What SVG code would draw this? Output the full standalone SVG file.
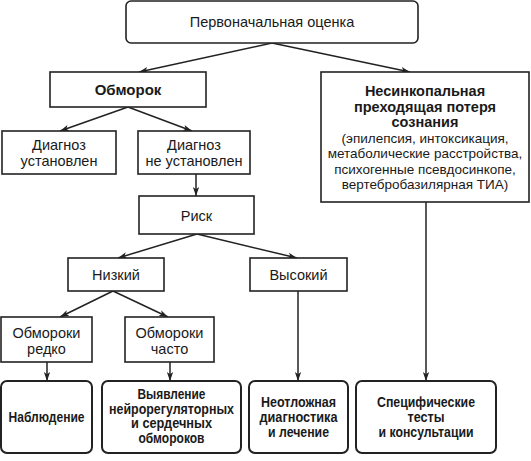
<svg xmlns="http://www.w3.org/2000/svg" width="531" height="461" viewBox="0 0 531 461">
<defs>
<style>
.b{fill:#fff;stroke:#222;stroke-width:1.6}
.r{fill:#fff;stroke:#222;stroke-width:2;}
.t{font-family:"Liberation Sans",Arial,sans-serif;font-size:14.5px;fill:#1a1a1a;text-anchor:middle}
.s{font-family:"Liberation Sans",Arial,sans-serif;font-size:13.5px;fill:#1a1a1a;text-anchor:middle}
.h{font-family:"Liberation Sans",Arial,sans-serif;font-size:15px;font-weight:bold;fill:#1a1a1a;text-anchor:middle}
.g{font-family:"Liberation Sans",Arial,sans-serif;font-size:14.5px;font-weight:bold;fill:#1a1a1a;text-anchor:middle}
.k{font-family:"Liberation Sans",Arial,sans-serif;font-size:14px;font-weight:bold;fill:#1a1a1a;text-anchor:middle}
.c{fill:none;stroke:#222;stroke-width:1.5}
</style>
<marker id="a" viewBox="0 0 10 10" refX="10" refY="5" markerWidth="9" markerHeight="9" markerUnits="userSpaceOnUse" orient="auto">
<path d="M0,1.5 L10,5 L0,8.5 L2.5,5 Z" fill="#222"/>
</marker>
</defs>
<rect width="531" height="461" fill="#fff"/>
<g id="connectors">
<line class="c" x1="272" y1="43" x2="139" y2="72" marker-end="url(#a)"/>
<line class="c" x1="272" y1="43" x2="410" y2="72" marker-end="url(#a)"/>
<line class="c" x1="128" y1="107" x2="60" y2="131" marker-end="url(#a)"/>
<line class="c" x1="128" y1="107" x2="192" y2="131" marker-end="url(#a)"/>
<line class="c" x1="196" y1="174" x2="196" y2="196" marker-end="url(#a)"/>
<line class="c" x1="197" y1="234" x2="118" y2="258" marker-end="url(#a)"/>
<line class="c" x1="197" y1="234" x2="297" y2="258" marker-end="url(#a)"/>
<line class="c" x1="113" y1="291" x2="60" y2="317" marker-end="url(#a)"/>
<line class="c" x1="113" y1="291" x2="168" y2="317" marker-end="url(#a)"/>
<line class="c" x1="47" y1="362" x2="47" y2="381" marker-end="url(#a)"/>
<line class="c" x1="170" y1="362" x2="170" y2="381" marker-end="url(#a)"/>
<line class="c" x1="298" y1="291" x2="298" y2="381" marker-end="url(#a)"/>
<line class="c" x1="426" y1="202" x2="426" y2="381" marker-end="url(#a)"/>
</g>
<g id="n-start">
<rect class="b" x="126" y="1" width="292" height="42" rx="5"/>
<text class="t" x="272" y="27">Первоначальная оценка</text>
</g>
<g id="n-syncope">
<rect class="b" x="50" y="72" width="156" height="35"/>
<text class="h" x="128" y="95">Обморок</text>
</g>
<g id="n-nonsyncope">
<rect class="b" x="321" y="72" width="208" height="130"/>
<text class="g" x="425" y="96">Несинкопальная</text>
<text class="g" x="425" y="111.5">преходящая потеря</text>
<text class="g" x="425" y="127">сознания</text>
<text class="s" x="425" y="142.5">(эпилепсия, интоксикация,</text>
<text class="s" x="425" y="158">метаболические расстройства,</text>
<text class="s" x="425" y="173.5">психогенные псевдосинкопе,</text>
<text class="s" x="425" y="189">вертебробазилярная ТИА)</text>
</g>
<g id="n-dx-yes">
<rect class="b" x="2" y="131" width="114" height="43"/>
<text class="t" x="59" y="150">Диагноз</text>
<text class="t" x="59" y="166">установлен</text>
</g>
<g id="n-dx-no">
<rect class="b" x="138" y="131" width="112" height="43"/>
<text class="t" x="194" y="150">Диагноз</text>
<text class="t" x="194" y="166">не установлен</text>
</g>
<g id="n-risk">
<rect class="b" x="139" y="196" width="115" height="38"/>
<text class="t" x="196.5" y="221">Риск</text>
</g>
<g id="n-low">
<rect class="b" x="68" y="258" width="96" height="33"/>
<text class="t" x="116" y="280">Низкий</text>
</g>
<g id="n-high">
<rect class="b" x="250" y="258" width="97" height="33"/>
<text class="t" x="298.5" y="280">Высокий</text>
</g>
<g id="n-rare">
<rect class="b" x="1" y="317" width="91" height="45"/>
<text class="t" x="46.5" y="338">Обмороки</text>
<text class="t" x="46.5" y="354">редко</text>
</g>
<g id="n-often">
<rect class="b" x="125" y="317" width="89" height="45"/>
<text class="t" x="169.5" y="338">Обмороки</text>
<text class="t" x="169.5" y="354">часто</text>
</g>
<g id="n-observe">
<rect class="r" x="1" y="381" width="91" height="72" rx="6"/>
<text class="k" x="46.5" y="422" textLength="76" lengthAdjust="spacingAndGlyphs">Наблюдение</text>
</g>
<g id="n-detect">
<rect class="r" x="102" y="381" width="139" height="72" rx="6"/>
<text class="k" x="171.5" y="399" textLength="68" lengthAdjust="spacingAndGlyphs">Выявление</text>
<text class="k" x="171.5" y="413.5" textLength="125" lengthAdjust="spacingAndGlyphs">нейрорегуляторных</text>
<text class="k" x="171.5" y="428" textLength="81" lengthAdjust="spacingAndGlyphs">и сердечных</text>
<text class="k" x="171.5" y="442.5" textLength="66" lengthAdjust="spacingAndGlyphs">обмороков</text>
</g>
<g id="n-urgent">
<rect class="r" x="249" y="381" width="99" height="72" rx="6"/>
<text class="k" x="298.5" y="407" textLength="75" lengthAdjust="spacingAndGlyphs">Неотложная</text>
<text class="k" x="298.5" y="422" textLength="78" lengthAdjust="spacingAndGlyphs">диагностика</text>
<text class="k" x="298.5" y="437" textLength="61" lengthAdjust="spacingAndGlyphs">и лечение</text>
</g>
<g id="n-specific">
<rect class="r" x="356" y="381" width="140" height="72" rx="6"/>
<text class="k" x="426" y="407" textLength="98" lengthAdjust="spacingAndGlyphs">Специфические</text>
<text class="k" x="426" y="422" textLength="37" lengthAdjust="spacingAndGlyphs">тесты</text>
<text class="k" x="426" y="437" textLength="95" lengthAdjust="spacingAndGlyphs">и консультации</text>
</g>
</svg>
